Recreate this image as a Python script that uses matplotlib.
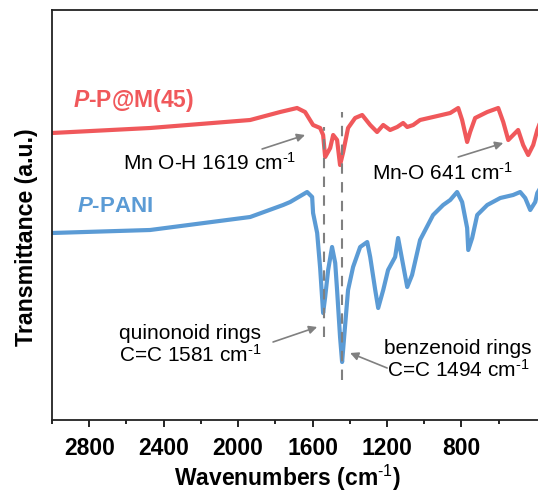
import numpy as np
import matplotlib
matplotlib.use("Agg")
import matplotlib.pyplot as plt
from matplotlib.ticker import FixedLocator

plt.rcParams['font.family'] = ['Liberation Sans', 'DejaVu Sans']
plt.rcParams['mathtext.fontset'] = 'custom'
plt.rcParams['mathtext.rm'] = 'Liberation Sans'
plt.rcParams['mathtext.it'] = 'Liberation Sans:italic:bold'
plt.rcParams['mathtext.bf'] = 'Liberation Sans:bold'

# FTIR spectra (wavenumber in cm-1, transmittance in arbitrary units)
wn_ppm = [3000, 2473, 1935, 1774, 1683, 1640, 1597, 1559, 1543, 1532, 1505, 1489, 1468,
          1452, 1435, 1409, 1371, 1333, 1290, 1253, 1220, 1183, 1145, 1113, 1091, 1059,
          1022, 952, 860, 817, 796, 769, 753, 726, 661, 602, 575, 548, 511, 495, 468,
          441, 414, 392, 376]
tr_ppm = [287, 292, 300, 308, 312, 308, 295, 292, 285, 263, 272, 285, 280,
          255, 268, 292, 302, 305, 295, 288, 295, 290, 293, 297, 293, 295,
          300, 303, 307, 312, 300, 278, 288, 302, 308, 312, 298, 280, 287, 290, 275,
          265, 275, 290, 298]

wn_pani = [3000, 2473, 1935, 1758, 1720, 1629, 1602, 1597, 1575, 1559, 1543, 1532, 1516,
           1495, 1478, 1468, 1452, 1441, 1430, 1409, 1382, 1344, 1306, 1290, 1263, 1247,
           1220, 1194, 1156, 1140, 1118, 1091, 1065, 1022, 952, 898, 860, 823, 796, 769,
           763, 742, 715, 661, 591, 522, 484, 457, 430, 403, 392, 376]
tr_pani = [187, 190, 203, 215, 218, 228, 223, 207, 187, 152, 107, 123, 150,
           173, 157, 130, 83, 58, 83, 130, 153, 173, 178, 163, 130, 112,
           130, 150, 163, 182, 160, 133, 145, 180, 205, 215, 220, 228, 218, 192,
           170, 182, 205, 215, 222, 225, 228, 222, 210, 218, 227, 232]

# dashed guide lines (x, y bottom, y top)
guide_x = [1538, 1441]
guide_y0 = [83, 40]
guide_y1 = [293, 308]

red = '#F0585B'
blue = '#5B9BD5'
grey = '#808080'

fig = plt.figure(figsize=(5.38, 4.93), dpi=100)
ax = fig.add_axes([52 / 538, 73 / 493, 508 / 538, 410 / 493])

ax.plot(wn_ppm, tr_ppm, color=red, lw=3, solid_joinstyle='round')
ax.plot(wn_pani, tr_pani, color=blue, lw=3, solid_joinstyle='round')

for gx, g0, g1 in zip(guide_x, guide_y0, guide_y1):
    ax.plot([gx, gx], [g0, g1], color=grey, lw=1.5, ls=(0, (5, 4)))

ax.set_xlim(3000, 270)
ax.set_ylim(0, 410)

ax.text(2885, 320, '$\\mathit{P}$-P@M(45)', color=red, fontsize=16.5, fontweight='bold',
        ha='left', va='center')
ax.text(2866, 213, '$\\mathit{P}$-PANI', color=blue, fontsize=16, fontweight='bold',
        ha='left', va='center')

sup = '$^{\\text{-1}}$'
arrow = dict(arrowstyle='-|>', color=grey, lw=1.2, mutation_scale=12, shrinkA=0, shrinkB=0)
ax.annotate('', xy=(1640, 285), xytext=(1871, 271), arrowprops=arrow)
ax.text(2151, 257, 'Mn O-H 1619 cm' + sup, fontsize=15, ha='center', va='center')
ax.annotate('', xy=(575, 277), xytext=(817, 263), arrowprops=arrow)
ax.text(903, 247, 'Mn-O 641 cm' + sup, fontsize=15, ha='center', va='center')
ax.annotate('', xy=(1575, 93), xytext=(1812, 78), arrowprops=arrow)
ax.text(2258, 75, 'quinonoid rings\nC=C 1581 cm' + sup, fontsize=15, ha='center',
        va='center', linespacing=1.05)
ax.annotate('', xy=(1398, 67), xytext=(1199, 52), arrowprops=arrow)
ax.text(817, 60, 'benzenoid rings\nC=C 1494 cm' + sup, fontsize=15, ha='center',
        va='center', linespacing=1.05)

ax.xaxis.set_major_locator(FixedLocator([2800, 2400, 2000, 1600, 1200, 800]))
ax.xaxis.set_minor_locator(FixedLocator([3000, 2600, 2200, 1800, 1400, 1000, 600]))
ax.tick_params(axis='x', which='major', direction='out', length=5, width=1.2,
               labelsize=16.5, pad=7)
ax.tick_params(axis='x', which='minor', direction='out', length=3, width=1.2)
ax.set_yticks([])
for lab in ax.get_xticklabels():
    lab.set_fontweight('bold')
for s in ax.spines.values():
    s.set_linewidth(1.3)
    s.set_color('#222222')

ax.set_xlabel('Wavenumbers (cm$^{\\mathbf{\\text{-1}}}$)', fontsize=16.5, fontweight='bold')
ax.xaxis.set_label_coords(236 / 508, -0.105)
ax.set_ylabel('Transmittance (a.u.)', fontsize=16.7, fontweight='bold')
ax.yaxis.set_label_coords(-0.028, 0.446)

fig.savefig('out.png', dpi=100)
